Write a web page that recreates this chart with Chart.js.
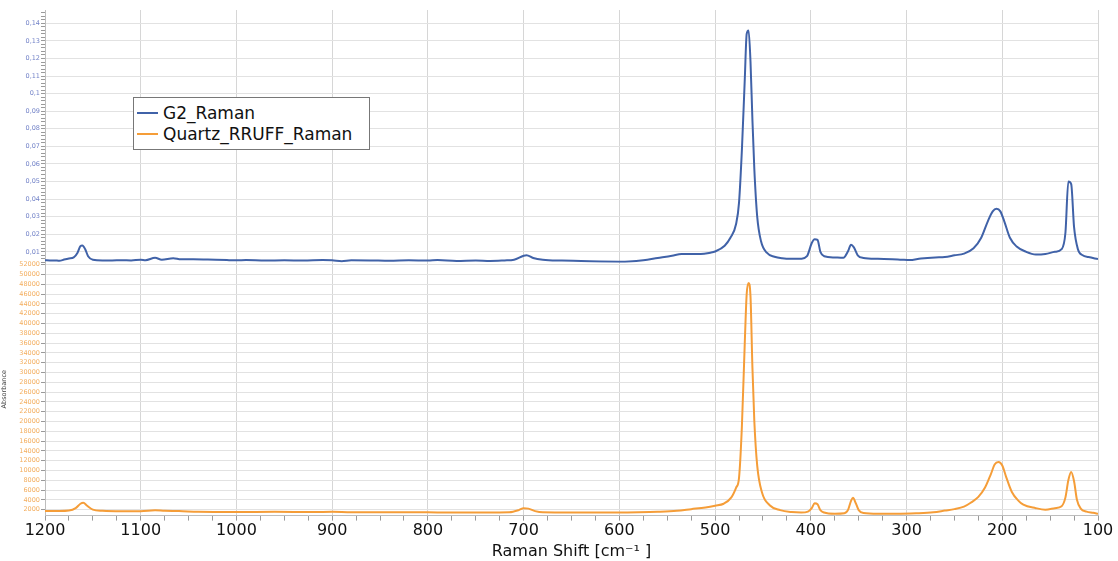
<!DOCTYPE html>
<html>
<head>
<meta charset="utf-8">
<script src="https://cdn.jsdelivr.net/npm/chart.js@4.4.0/dist/chart.umd.min.js"></script>
<style>
  body { margin: 0; background: #fff; }
  #wrap { position: relative; width: 1118px; height: 561px; }
  #legend {
    position: absolute; left: 133px; top: 97px; width: 237px; height: 53px;
    box-sizing: border-box; padding: 4px 0 0 3px;
    border: 1px solid #777; background: #fff;
    font-family: 'DejaVu Sans', sans-serif; font-size: 17px; color: #111;
  }
  #legend .row { display: flex; align-items: center; height: 21px; }
  #legend .swatch { width: 21px; height: 2px; margin-right: 5px; }
</style>
</head>
<body>
<div id="wrap">
  <canvas id="c"></canvas>
  <div id="legend"></div>
</div>
<script>
// G2 sample (upper panel)
const g2Shift = [1200,1195,1190,1185,1180,1175,1170,1166,1163,1161,1158,1155,1150,1140,1130,1120,1110,1100,1095,1085,1078,1066,1058,1045,1030,1010,1000,990,970,950,930,910,900,890,880,860,840,820,800,790,770,750,735,720,710,700,697,690,680,660,640,620,600,590,575,560,545,535,525,515,505,500,490,484,478,475,472,469,467,465,463,461,459,456,452,446,438,430,420,410,404,399,396,393,390,386,375,366,361,358,355,351,345,330,315,305,297,285,270,260,250,240,230,222,215,210,206,202,198,192,185,175,165,155,145,138,134,131,128,125,121,116,110,100];
const g2Values = [0.0052,0.0051,0.0051,0.0049,0.0056,0.0062,0.0068,0.0095,0.0132,0.0136,0.0115,0.0075,0.0055,0.0051,0.0051,0.0052,0.0051,0.0055,0.0052,0.0066,0.0055,0.0064,0.0057,0.0058,0.0056,0.0053,0.0052,0.0053,0.0050,0.0052,0.0050,0.0053,0.0052,0.0047,0.0052,0.0051,0.0049,0.0052,0.0050,0.0053,0.0048,0.0051,0.0048,0.0051,0.0055,0.0078,0.0081,0.0065,0.0055,0.0050,0.0048,0.0045,0.0044,0.0045,0.0052,0.0065,0.0078,0.0088,0.0088,0.0087,0.0095,0.0102,0.0135,0.018,0.026,0.038,0.068,0.108,0.134,0.136,0.118,0.085,0.057,0.030,0.016,0.0095,0.0072,0.0063,0.0060,0.0061,0.0075,0.0150,0.0172,0.0168,0.0100,0.0075,0.0068,0.0066,0.0105,0.0140,0.0125,0.0080,0.0065,0.0060,0.0058,0.0055,0.0053,0.0062,0.0068,0.0070,0.0080,0.0090,0.0120,0.0180,0.0275,0.0330,0.0345,0.0330,0.0275,0.0180,0.0130,0.0100,0.0085,0.0088,0.0100,0.0115,0.0210,0.0500,0.0485,0.0240,0.0115,0.0080,0.0070,0.0059];

// Quartz reference (lower panel)
const quartzShift = [1200,1185,1175,1168,1163,1160,1156,1150,1140,1120,1100,1085,1075,1060,1040,1000,960,920,900,880,840,800,780,740,715,705,700,695,688,680,650,600,580,560,540,525,510,500,491,483,478,475,472,469,467,465,463,461,459,456,451,443,432,420,410,403,399,396,393,390,386,375,365,361,358,356,353,350,345,330,310,290,272,260,250,240,233,225,218,212,208,204,200,196,190,183,178,165,155,145,138,134,131,128,125,122,118,112,105,100];
const quartzValues = [1700,1700,1800,2300,3200,3400,2800,2000,1750,1650,1650,1850,1750,1700,1550,1500,1550,1500,1550,1450,1450,1450,1400,1400,1450,1900,2300,2200,1700,1450,1400,1400,1450,1550,1750,2100,2450,2800,3200,4500,6500,8500,19000,36000,46000,48300,45500,31000,20000,11000,5500,2900,1900,1500,1400,1600,2300,3300,3100,1900,1400,1150,1250,2000,3800,4400,3300,1900,1300,1150,1150,1250,1450,1800,2100,2600,3400,4600,6500,9200,11200,11700,11000,8700,5600,3800,3000,2300,2000,2300,2700,4500,8000,9700,7800,4000,2200,1600,1350,1150];

const xTickValues = [1200,1100,1000,900,800,700,600,500,400,300,200,100];
const g2TickValues = [0.01,0.02,0.03,0.04,0.05,0.06,0.07,0.08,0.09,0.1,0.11,0.12,0.13,0.14];
const quartzTickValues = [2000,4000,6000,8000,10000,12000,14000,16000,18000,20000,22000,24000,26000,28000,30000,32000,34000,36000,38000,40000,42000,44000,46000,48000,50000,52000];

const blue = '#4062a8';
const orange = '#f59d38';

function toPoints(xs, ys) {
  return xs.map((x, i) => ({ x: x, y: ys[i] }));
}
function isIn(list, v) {
  return list.some(t => Math.abs(t - v) < 1e-9);
}

const data = {
  datasets: [
    {
      label: 'G2_Raman',
      data: toPoints(g2Shift, g2Values),
      borderColor: blue,
      yAxisID: 'yG2'
    },
    {
      label: 'Quartz_RRUFF_Raman',
      data: toPoints(quartzShift, quartzValues),
      borderColor: orange,
      yAxisID: 'yQuartz'
    }
  ]
};

const chart = new Chart(document.getElementById('c'), {
  type: 'line',
  data: data,
  options: {
    responsive: true,
    maintainAspectRatio: false,
    animation: false,
    devicePixelRatio: 1,
    layout: { padding: { top: 10, right: 20, left: 0, bottom: 0 } },
    elements: {
      point: { radius: 0 },
      line: { borderWidth: 2, cubicInterpolationMode: 'monotone' }
    },
    plugins: { legend: { display: false }, tooltip: { enabled: false } },
    scales: {
      x: {
        type: 'linear',
        reverse: true,
        min: 100,
        max: 1200,
        afterBuildTicks: s => {
          const t = [];
          for (let v = 100; v <= 1200; v += 25) t.push({ value: v });
          s.ticks = t;
        },
        ticks: {
          autoSkip: false,
          maxRotation: 0,
          padding: 1,
          color: '#111',
          font: { family: 'DejaVu Sans', size: 16 },
          callback: v => isIn(xTickValues, v) ? String(v) : ''
        },
        grid: {
          color: c => (c.tick && isIn(xTickValues, c.tick.value)) ? '#d6d6d6' : 'rgba(0,0,0,0)',
          tickColor: '#9a9a9a',
          tickLength: 5
        },
        border: { color: '#bdbdbd' },
        title: {
          display: true,
          text: 'Raman Shift [cm\u207B\u00B9 ]',
          color: '#111',
          font: { family: 'DejaVu Sans', size: 16 },
          padding: { top: 0, bottom: 0 }
        }
      },
      yQuartz: {
        type: 'linear',
        position: 'left',
        stack: 'panels',
        stackWeight: 1,
        min: 780,
        max: 52400,
        afterBuildTicks: s => { s.ticks = quartzTickValues.map(v => ({ value: v })); },
        afterFit: s => { s.width = 45; },
        ticks: {
          autoSkip: false,
          padding: 1,
          color: '#f3ae5f',
          font: { family: 'DejaVu Sans', size: 6.5 },
          callback: v => String(v)
        },
        grid: { color: '#e2e2e2', tickColor: '#9a9a9a', tickLength: 4 },
        border: { color: '#bdbdbd' },
        title: {
          display: true,
          text: 'Absorbance',
          color: '#444',
          font: { family: 'DejaVu Sans', size: 6.5 },
          padding: { top: 0, bottom: 0 }
        }
      },
      yG2: {
        type: 'linear',
        position: 'left',
        stack: 'panels',
        stackWeight: 1,
        min: 0.00375,
        max: 0.1476,
        afterBuildTicks: s => {
          const t = [];
          for (let i = 2; i <= 73; i++) t.push({ value: i / 500 });
          s.ticks = t;
        },
        afterFit: s => { s.width = 45; },
        ticks: {
          padding: 1,
          autoSkip: false,
          color: '#7383c8',
          font: { family: 'DejaVu Sans', size: 6.5 },
          callback: v => isIn(g2TickValues, v) ? String(Number(v.toFixed(2))).replace('.', ',') : ''
        },
        grid: {
          color: c => (c.tick && isIn(g2TickValues, c.tick.value)) ? '#e2e2e2' : 'rgba(0,0,0,0)',
          tickColor: '#9a9a9a',
          tickLength: 4
        },
        border: { color: '#bdbdbd' }
      }
    }
  }
});

// legend box drawn from the chart's datasets
const legend = document.getElementById('legend');
chart.data.datasets.forEach(ds => {
  const row = document.createElement('div');
  row.className = 'row';
  const sw = document.createElement('span');
  sw.className = 'swatch';
  sw.style.background = ds.borderColor;
  const label = document.createElement('span');
  label.textContent = ds.label;
  row.appendChild(sw);
  row.appendChild(label);
  legend.appendChild(row);
});
</script>
</body>
</html>
